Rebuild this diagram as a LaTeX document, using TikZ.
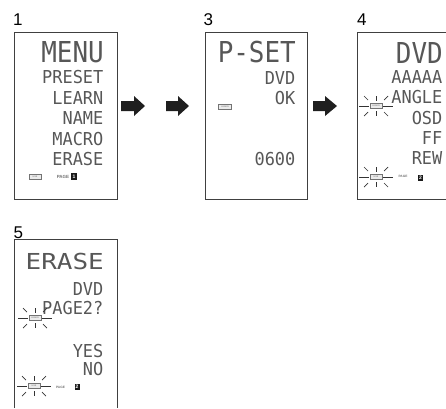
\documentclass[tikz,border=0pt]{standalone}
\usepackage{fontspec}
\setmainfont{Liberation Sans}
\newfontfamily\lcdbigfont[FakeStretch=0.9]{DejaVu Sans Mono}
\newfontfamily\lcdwidefont[FakeStretch=1.18]{DejaVu Sans Mono}
\newfontfamily\lcdsmallfont[FakeStretch=0.95]{DejaVu Sans Mono}
\tikzset{
  panel/.style={draw=black!75, line width=0.8pt},
  bigtxt/.style={anchor=east, inner sep=0pt, text=black!66, font=\lcdbigfont\fontsize{28.8}{30}\selectfont},
  widetxt/.style={anchor=east, inner sep=0pt, text=black!66, font=\lcdwidefont\fontsize{22}{24}\selectfont},
  smalltxt/.style={anchor=east, inner sep=0pt, text=black!66, font=\lcdsmallfont\fontsize{17.8}{19}\selectfont},
  numlbl/.style={anchor=base west, inner sep=0pt, font=\fontsize{17}{18}\selectfont},
  icon/.style={draw=black!55, fill=black!8, line width=0.5pt, minimum width=12pt, minimum height=5pt, inner sep=0pt, font=\fontsize{2.2}{2.4}\selectfont, text=black!60},
  pagelbl/.style={inner sep=0pt, font=\bfseries\fontsize{4.5}{5}\selectfont, text=black!55},
  pagelblsm/.style={inner sep=0pt, font=\bfseries\fontsize{3.2}{4}\selectfont, text=black!55},
  pagenum/.style={fill=black!90, text=white, inner sep=0pt, minimum width=6pt, minimum height=7pt, font=\bfseries\fontsize{5}{5}\selectfont},
  ray/.style={draw=black!80, line width=0.7pt},
  blockarrow/.style={fill=black!88},
}
\newcommand\blinkrays[1]{%
  \begin{scope}[shift={(#1.center)}]
    \draw[ray] (-17,0) -- (-7,0);
    \draw[ray] (7,0) -- (17,0);
    \draw[ray] (0,-10) -- (0,-5);
    \draw[ray] (0,5) -- (0,10);
    \draw[ray] (-12,-10) -- (-8,-6);
    \draw[ray] (12,-10) -- (8,-6);
    \draw[ray] (-12,10) -- (-8,6);
    \draw[ray] (12,10) -- (8,6);
  \end{scope}}
\newcommand\blockarr[3]{%
  \fill[blockarrow] (#1,101) -- (#2,101) -- (#2,96) -- (#3,106) -- (#2,116) -- (#2,111) -- (#1,111) -- cycle;}
\begin{document}
\begin{tikzpicture}[x=1pt,y=-1pt]
\useasboundingbox (0,0) rectangle (446,408);
% labels
\node[numlbl] (n1) at (13,25) {1};
\node[numlbl] (n3) at (203.3,25) {3};
\node[numlbl] (n4) at (357,25) {4};
\node[numlbl] (n5) at (13.3,238) {5};
% panels
\draw[panel] (14,32) rectangle (117,199);
\draw[panel] (205,32) rectangle (307,199);
\draw[panel] (446,32) -| (357,199) -- (446,199);
\draw[panel] (14,408) |- (117,239) -- (117,408);
% arrows
\blockarr{121}{134}{145}
\blockarr{166}{178}{189}
\blockarr{313}{325}{337}
% panel 1
\node[bigtxt] (p1menu) at (104,52.5) {MENU};
\node[smalltxt] (p1preset) at (103.5,77.5) {PRESET};
\node[smalltxt] (p1learn) at (103.5,98) {LEARN};
\node[smalltxt] (p1name) at (103.5,118) {NAME};
\node[smalltxt] (p1macro) at (103.5,139) {MACRO};
\node[smalltxt] (p1erase) at (103.5,159) {ERASE};
\node[icon] (p1use) at (35,176.5) {USE};
\node[pagelbl] (p1page) at (63,177) {PAGE};
\node[pagenum] (p1num) at (74,176.5) {1};
% panel 3
\node[bigtxt] (p3pset) at (296,52.5) {P-SET};
\node[smalltxt] (p3dvd) at (295.5,78) {DVD};
\node[smalltxt] (p3ok) at (295.5,98) {OK};
\node[icon, minimum width=13pt] (p3learn) at (225,106.5) {LEARN};
\node[smalltxt] (p3code) at (295.5,159) {0600};
% panel 4
\node[bigtxt] (p4dvd) at (443,52.5) {DVD};
\node[smalltxt] (p4aaaaa) at (442.5,77.5) {AAAAA};
\node[smalltxt] (p4angle) at (442.5,97) {ANGLE};
\node[smalltxt] (p4osd) at (442.5,118) {OSD};
\node[smalltxt] (p4ff) at (442.5,138) {FF};
\node[smalltxt] (p4rew) at (442.5,158) {REW};
\node[icon] (p4learn) at (376,106) {LEARN};
\blinkrays{p4learn}
\node[icon] (p4use) at (376,177) {USE};
\blinkrays{p4use}
\node[pagelblsm] (p4page) at (403,176.5) {PAGE};
\node[pagenum, minimum width=5.5pt, minimum height=6pt] (p4num) at (420.5,177.5) {2};
% panel 5
\node[widetxt] (p5erase) at (104,261) {ERASE};
\node[smalltxt] (p5dvd) at (103.5,289) {DVD};
\node[smalltxt] (p5page2) at (103.5,308) {PAGE2?};
\node[smalltxt] (p5yes) at (103.5,351) {YES};
\node[smalltxt] (p5no) at (103.5,369) {NO};
\node[icon] (p5learn) at (35,318) {LEARN};
\blinkrays{p5learn}
\node[icon] (p5use) at (34,386) {USE};
\blinkrays{p5use}
\node[pagelblsm] (p5page) at (60.5,387) {PAGE};
\node[pagenum, minimum width=5pt, minimum height=6pt] (p5num) at (77,387) {2};
\end{tikzpicture}
\end{document}
